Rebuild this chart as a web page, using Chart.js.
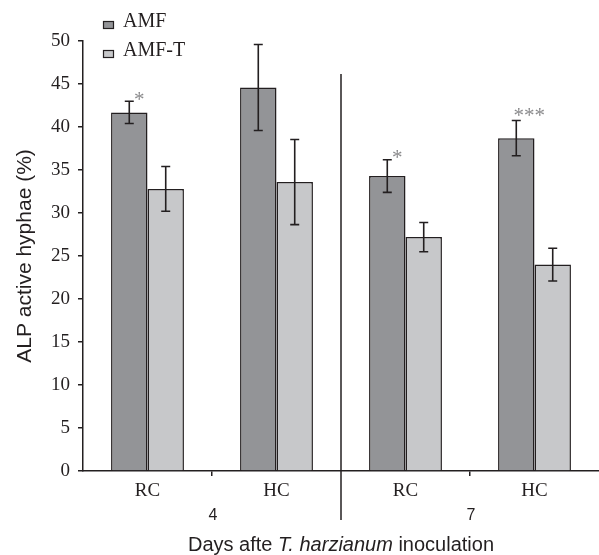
<!DOCTYPE html>
<html>
<head>
<meta charset="utf-8">
<script src="https://cdn.jsdelivr.net/npm/chart.js@4/dist/chart.umd.min.js"></script>
<style>
  html, body { margin: 0; padding: 0; background: #ffffff; }
  #wrap { width: 599px; height: 555px; position: relative; }
</style>
</head>
<body>
<div id="wrap"><canvas id="c" width="599" height="555"></canvas></div>
<script>
// ---- data ----
const categories = ['RC', 'HC', 'RC', 'HC'];
const dayGroups = ['4', '7'];
const seriesNames = ['AMF', 'AMF-T'];
const amfValues = [41.7, 44.6, 34.3, 38.7];
const amfErrors = [1.3, 5.0, 1.9, 2.05];
const amftValues = [32.8, 33.6, 27.2, 24.0];
const amftErrors = [2.6, 4.95, 1.7, 1.9];
const amfSignificance = ['*', '', '*', '***'];
const yTickMin = 0, yTickMax = 50, yTickStep = 5;
const yTitle = 'ALP active hyphae (%)';
const xTitleParts = [['Days afte ', false], ['T. harzianum', true], [' inoculation', false]];

const INK = '#231f20';
const SERIF = '"Liberation Serif", "DejaVu Serif", serif';
const SANS = '"Liberation Sans", Arial, sans-serif';

const errorsBySeries = [amfErrors, amftErrors];
const sigBySeries = [amfSignificance, null];

const decorPlugin = {
  id: 'decor',
  afterDatasetsDraw(chart) {
    const ctx = chart.ctx;
    const y = chart.scales.y;
    ctx.save();
    ctx.strokeStyle = INK;
    ctx.lineWidth = 1.6;
    chart.data.datasets.forEach((ds, i) => {
      const meta = chart.getDatasetMeta(i);
      const errs = errorsBySeries[i];
      meta.data.forEach((bar, j) => {
        const v = ds.data[j], e = errs[j];
        const yt = y.getPixelForValue(v + e), yb = y.getPixelForValue(v - e);
        const x = bar.x, cap = 4.5;
        ctx.beginPath();
        ctx.moveTo(x, yt); ctx.lineTo(x, yb);
        ctx.moveTo(x - cap, yt); ctx.lineTo(x + cap, yt);
        ctx.moveTo(x - cap, yb); ctx.lineTo(x + cap, yb);
        ctx.stroke();
        const sigs = sigBySeries[i];
        if (sigs && sigs[j]) {
          ctx.fillStyle = '#8a8a8c';
          ctx.font = '21px ' + SERIF;
          ctx.textAlign = 'center';
          ctx.textBaseline = 'middle';
          const many = sigs[j].length > 1;
          ctx.fillText(sigs[j], x + (many ? 13 : 10), yt + (many ? -4 : -1));
        }
      });
    });
    ctx.restore();
  },
  afterDraw(chart) {
    const ctx = chart.ctx;
    const xs = chart.scales.x;
    const area = chart.chartArea;
    ctx.save();
    const half = categories.length / 2;
    const divX = (xs.getPixelForValue(half - 1) + xs.getPixelForValue(half)) / 2;
    ctx.strokeStyle = INK;
    ctx.lineWidth = 1.5;
    ctx.beginPath();
    ctx.moveTo(divX, 74);
    ctx.lineTo(divX, 520);
    ctx.stroke();
    ctx.fillStyle = INK;
    ctx.font = '16px ' + SANS;
    ctx.textAlign = 'center';
    ctx.textBaseline = 'middle';
    dayGroups.forEach((g, k) => {
      const a = xs.getPixelForValue(k * 2), b = xs.getPixelForValue(k * 2 + 1);
      ctx.fillText(g, (a + b) / 2 + 1, 516);
    });
    const fs = 20;
    const fonts = xTitleParts.map(p => (p[1] ? 'italic ' : '') + fs + 'px ' + SANS);
    let total = 0;
    const widths = xTitleParts.map((p, k) => { ctx.font = fonts[k]; const w = ctx.measureText(p[0]).width; total += w; return w; });
    let cx = (area.left + area.right) / 2 - total / 2;
    ctx.textAlign = 'left';
    xTitleParts.forEach((p, k) => { ctx.font = fonts[k]; ctx.fillText(p[0], cx, 545); cx += widths[k]; });
    ctx.font = '20px ' + SERIF;
    ctx.textBaseline = 'middle';
    chart.data.datasets.forEach((ds, i) => {
      const ly = 22 + i * 29;
      ctx.fillStyle = ds.backgroundColor;
      ctx.fillRect(103.5, ly - 0.5, 10, 7);
      ctx.strokeStyle = INK;
      ctx.lineWidth = 1.2;
      ctx.strokeRect(103.5, ly - 0.5, 10, 7);
      ctx.fillStyle = INK;
      ctx.fillText(ds.label, 123, ly);
    });
    ctx.restore();
  }
};

new Chart(document.getElementById('c'), {
  type: 'bar',
  data: {
    labels: categories,
    datasets: [
      { label: seriesNames[0], data: amfValues, backgroundColor: '#939497', borderColor: INK, borderWidth: 1.5 },
      { label: seriesNames[1], data: amftValues, backgroundColor: '#c7c8ca', borderColor: INK, borderWidth: 1.5 }
    ]
  },
  options: {
    responsive: false,
    animation: false,
    devicePixelRatio: 1,
    layout: { padding: { top: 41, right: 0, bottom: 0, left: 0 } },
    plugins: { legend: { display: false }, tooltip: { enabled: false } },
    datasets: { bar: { categoryPercentage: 0.565, barPercentage: 1.0 } },
    scales: {
      x: {
        afterFit: s => { s.height = 84; },
        grid: {
          drawOnChartArea: false, drawTicks: true, tickLength: 5, lineWidth: 1.5,
          color: c => (c.index === 1 || c.index === 3) ? INK : 'rgba(0,0,0,0)'
        },
        border: { color: INK, width: 1.5 },
        ticks: { color: INK, font: { family: SERIF, size: 19 }, padding: 4, maxRotation: 0 }
      },
      y: {
        min: yTickMin, max: yTickMax,
        afterFit: s => { s.width = 83; },
        grid: { drawOnChartArea: false, drawTicks: true, tickLength: 5, lineWidth: 1.5, color: INK },
        border: { color: INK, width: 1.5 },
        ticks: { stepSize: yTickStep, color: INK, font: { family: SERIF, size: 19 }, padding: 8 },
        title: { display: true, text: yTitle, color: INK, font: { family: SANS, size: 21 }, padding: { top: 13 } }
      }
    }
  },
  plugins: [decorPlugin]
});
</script>
</body>
</html>
